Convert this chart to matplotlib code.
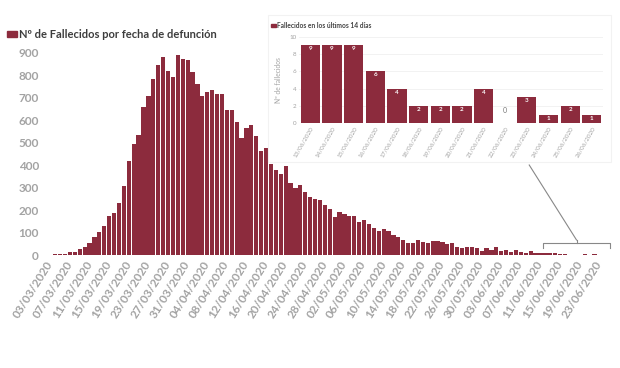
import matplotlib
matplotlib.use("Agg")
import matplotlib.pyplot as plt
from matplotlib.patches import Rectangle
import pandas as pd

plt.rcParams['font.family'] = ['Lato', 'DejaVu Sans']

# fallecidos por fecha de defuncion, 03/03/2020 - 26/06/2020
fechas = pd.date_range('2020-03-03', '2020-06-26', freq='D')
fallecidos = [2, 1, 3, 4, 4, 12, 15, 25, 34, 55,
              79, 104, 129, 175, 186, 233, 307, 420, 495, 536,
              661, 709, 784, 847, 882, 818, 791, 892, 873, 870,
              816, 763, 709, 727, 736, 716, 716, 646, 646, 594,
              521, 565, 577, 529, 462, 477, 407, 378, 361, 397,
              319, 299, 313, 279, 258, 250, 246, 223, 204, 170,
              190, 184, 176, 173, 146, 157, 139, 120, 105, 116,
              105, 87, 80, 68, 55, 53, 67, 60, 55, 62,
              61, 56, 50, 52, 37, 33, 36, 37, 30, 20,
              33, 22, 34, 18, 22, 14, 24, 14, 10, 18,
              10, 8, 9, 9, 9, 6, 4, 2, 2, 2,
              4, 0, 3, 1, 2, 1]
etiquetas = [f.strftime('%d/%m/%Y') for f in fechas]

# ultimos 14 dias
ult_fechas = etiquetas[-14:]
ult_valores = fallecidos[-14:]

rojo = '#8c2b3d'
gris = '#a3a3a3'

fig = plt.figure(figsize=(6.2, 3.68), dpi=100)

ax = fig.add_axes([0.0694, 0.307, 0.917, 0.549])
x = list(range(len(fallecidos)))
ax.bar(x, fallecidos, width=0.86, color=rojo, edgecolor='none')
ax.set_xlim(-0.5, len(x) - 0.5)
ax.set_ylim(0, 900)
ax.set_yticks(range(0, 901, 100))
ax.set_xticks(x[::4])
ax.set_xticklabels(etiquetas[::4], rotation=58, ha='right', rotation_mode='anchor')
ax.tick_params(length=0, labelcolor=gris, labelsize=8.5, pad=3)
for lab in ax.get_xticklabels() + ax.get_yticklabels():
    lab.set_fontweight('bold')
for s in ax.spines.values():
    s.set_visible(False)

# corchete de los ultimos 14 dias
n = len(x)
x0, x1 = n - 14.5, n - 0.8
xm = (x0 + x1) / 2
ax.plot([x0, x0, x1, x1], [31, 53, 53, 31], color='#888888', lw=0.8)
ax.plot([xm, xm], [53, 67], color='#888888', lw=0.8)
ax.plot([xm, n - 17.3], [67, 401], color='#888888', lw=0.8)

# leyenda principal
fig.patches.append(Rectangle((7 / 620, 1 - 37 / 368), 10 / 620, 6 / 368,
                             transform=fig.transFigure, color=rojo))
fig.text(19 / 620, 1 - 34 / 368, 'Nº de Fallecidos por fecha de defunción',
         fontsize=8, fontweight='bold', color='#3d3d3d', va='center')

# recuadro del inset
fig.patches.append(Rectangle((268 / 620, 1 - 162 / 368), 343 / 620, 147 / 368,
                             transform=fig.transFigure, facecolor='white',
                             edgecolor='#f2f2f2', lw=0.8, zorder=1))

ins = fig.add_axes([0.483, 0.665, 0.489, 0.2353], zorder=2)
xi = list(range(len(ult_valores)))
ins.bar(xi, ult_valores, width=0.89, color=rojo, zorder=2)
ins.set_xlim(-0.5, 13.5)
ins.set_ylim(0, 10)
ins.set_yticks(range(0, 11, 2))
ins.set_xticks(xi)
ins.set_xticklabels(ult_fechas, rotation=60, ha='right', rotation_mode='anchor')
ins.tick_params(length=0, labelcolor=gris, labelsize=4.5, pad=2)
ins.grid(axis='y', color='#f0f0f0', lw=0.6, zorder=0)
ins.set_ylabel('Nº de fallecidos', fontsize=4.8, color=gris, labelpad=5)
for s in ins.spines.values():
    s.set_visible(False)
for i, v in zip(xi, ult_valores):
    if v > 0:
        ins.text(i, v - 0.4, str(v), ha='center', va='center', color='white',
                 fontsize=4.5, fontweight='bold')
    else:
        ins.text(i, 1.5, str(v), ha='center', va='center', color='#777777',
                 fontsize=5)

fig.patches.append(Rectangle((271 / 620, 1 - 27 / 368), 5 / 620, 3 / 368,
                             transform=fig.transFigure, color=rojo, zorder=3))
fig.text(277 / 620, 1 - 25.5 / 368, 'Fallecidos en los últimos 14 días',
         fontsize=4.8, fontweight='bold', color='#444444', va='center')

fig.savefig('out.png', dpi=100, facecolor='white')
